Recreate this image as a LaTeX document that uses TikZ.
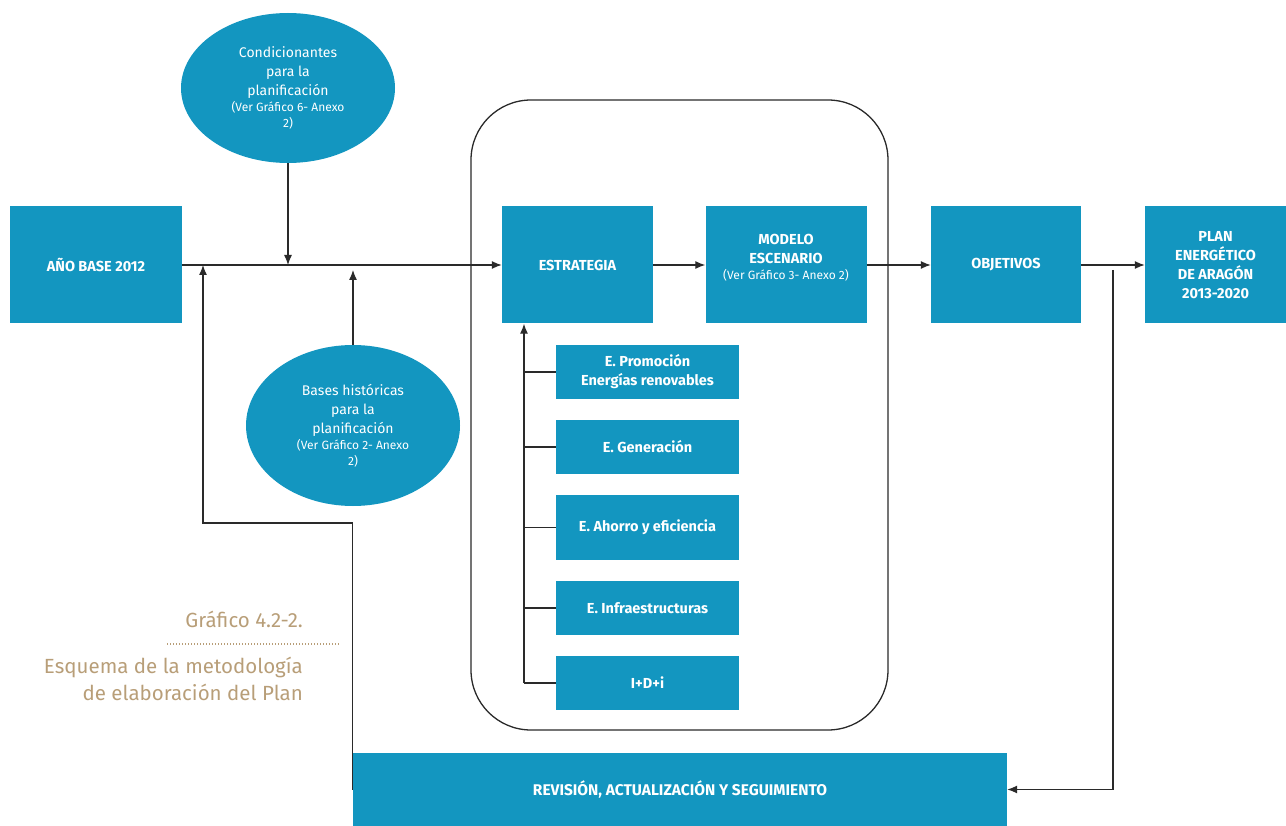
\documentclass[tikz,border=0pt]{standalone}
\usepackage{fontspec}
\setmainfont{Fira Sans}
\usetikzlibrary{positioning,arrows.meta,shapes.geometric}
\usetikzlibrary{math,calc}
\definecolor{planblue}{HTML}{1396C0}
\definecolor{plantan}{HTML}{B89E78}
\definecolor{planline}{HTML}{2A2A2A}
\tikzset{
    bluebox/.style={fill=planblue, text=white, inner sep=0pt, align=center,
        font=\fontsize{14.5}{19}\selectfont\bfseries},
    bluecloud/.style={ellipse, fill=planblue, text=white, inner sep=0pt, align=center,
        font=\fontsize{14}{19}\selectfont},
    substep/.style={bluebox, minimum width=183, minimum height=54},
    link/.style={draw=planline, line width=1.2pt},
    captext/.style={text=plantan, inner sep=0pt, font=\fontsize{20.5}{27}\selectfont},
}
\newcommand{\seegraph}[1]{{\fontsize{12}{16}\selectfont #1}}

\begin{document}
\begin{tikzpicture}[
    >={Latex[length=10pt,width=8pt]},
    x=1pt, y=-1pt,
  ]

  \tikzmath{
    \boxh = 117;   % height of the boxes in the main row
    \rowy = 265;   % height of the main row
    \subx = 647.5; % centre of the strategy boxes
  }

  \useasboundingbox (0,0) rectangle (1286,826);

  % --------------------
  % Frame round strategy
  % --------------------
  \node[draw=planline, line width=1.3pt, rounded corners=60pt,
    minimum width=417, minimum height=630] (frame) at (679.5,415) {};

  % --------
  % Main row
  % --------
  \node[bluebox, minimum width=172, minimum height=\boxh] (base) at (96,\rowy) {AÑO BASE 2012};
  \node[bluebox, minimum width=151, minimum height=\boxh] (estr) at (577.5,\rowy) {ESTRATEGIA};
  \node[bluebox, minimum width=161, minimum height=\boxh] (modelo) at (786,\rowy) {};
  \node[bluebox, anchor=center] (modelotext) at (786,258)
    {MODELO\\ESCENARIO\\[-3pt]\seegraph{\mdseries (Ver Gráfico 3- Anexo 2)}};
  \node[bluebox, minimum width=150, minimum height=\boxh] (obj) at (1006,\rowy) {OBJETIVOS};
  \node[bluebox, minimum width=141, minimum height=\boxh] (plan) at (1215.5,\rowy)
    {PLAN\\ENERGÉTICO\\DE ARAGÓN\\2013-2020};
  \node[bluebox, minimum width=654, minimum height=73,
    font=\fontsize{15.5}{19}\selectfont\bfseries] (revision) at (680,789.5)
    {REVISIÓN, ACTUALIZACIÓN Y SEGUIMIENTO};

  % The two ellipses
  \node[bluecloud, minimum width=214, minimum height=150] (cond) at (288,88)
    {Condicionantes\\para la\\planificación\\[-3pt]\seegraph{(Ver Gráfico 6- Anexo}\\[-3pt]\seegraph{2)}};
  \node[bluecloud, minimum width=214, minimum height=161] (bases) at (353,425.5)
    {Bases históricas\\para la\\planificación\\[-3pt]\seegraph{(Ver Gráfico 2- Anexo}\\[-3pt]\seegraph{2)}};

  % Strategy boxes
  \node[substep] (sub1) at (\subx,372) {E. Promoción\\Energías renovables};
  \node[substep] (sub2) at (\subx,447) {E. Generación};
  \node[substep, minimum height=65] (sub3) at (\subx,527.5) {E. Ahorro y eficiencia};
  \node[substep] (sub4) at (\subx,608) {E. Infraestructuras};
  \node[substep] (sub5) at (\subx,683) {I+D+i};

  % ----------
  % Connectors
  % ----------
  \coordinate (loop)  at (203,523);
  \coordinate (tap)   at (1113,270);
  \coordinate (trunk) at (524,0);

  \draw[link,->] (base.east) -- (estr.west);
  \draw[link,->] (estr.east) -- (modelo.west);
  \draw[link,->] (modelo.east) -- (obj.west);
  \draw[link,->] (obj.east) -- (plan.west);

  \draw[link,->] (cond.south) -- (cond.south |- base.east);
  \draw[link,->,shorten >=5pt] (bases.north) -- (bases.north |- base.east);
  \draw[link,->] (revision.west) |- (loop) -- (loop |- base.east);
  \draw[link,->] (tap) |- (revision.east);

  \draw[link,->] (sub5.west -| trunk) -- (trunk |- estr.south);
  \foreach \s in {sub1,sub2,sub3,sub4,sub5}
    \draw[link] (\s.west) -- (\s.west -| trunk);

  % -------
  % Caption
  % -------
  \node[captext, anchor=base east] (captitle) at (303,627) {Gráfico 4.2-2.};
  \draw[plantan, line width=1.5pt, dash pattern=on 1.2pt off 1.8pt] (167,644) -- (340,644);
  \node[captext, anchor=base east] (capline1) at (303,673) {Esquema de la metodología};
  \node[captext, anchor=base east] (capline2) at (303,700) {de elaboración del Plan};

\end{tikzpicture}
\end{document}
